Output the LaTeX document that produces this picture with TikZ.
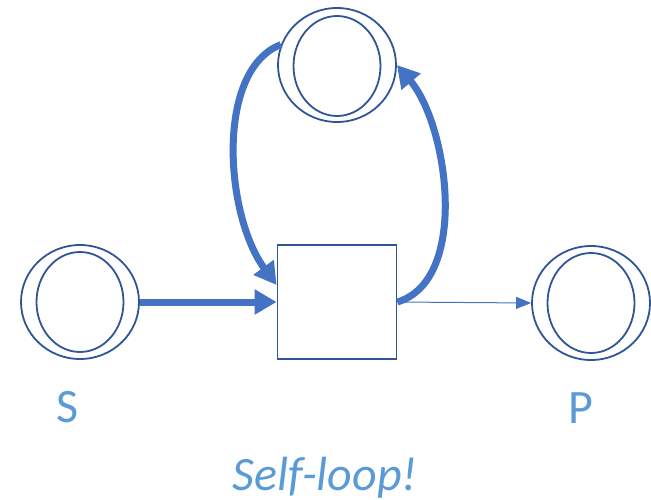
\documentclass[tikz,border=0pt]{standalone}
\usepackage{fontspec}
\setmainfont{Carlito}
\usetikzlibrary{shapes.geometric,arrows.meta}
\definecolor{ringblue}{HTML}{2F5597}
\definecolor{flowblue}{HTML}{4472C4}
\definecolor{labelblue}{HTML}{5B9BD5}
\begin{document}
\begin{tikzpicture}[x=1pt,y=-1pt,
  place/.style={ellipse,draw=ringblue,line width=1.8pt,minimum width=118pt,minimum height=114pt,inner sep=0pt},
  innerring/.style={ellipse,draw=ringblue,line width=1.8pt,minimum width=87pt,minimum height=100pt,inner sep=0pt},
  trans/.style={rectangle,draw=ringblue,line width=1.8pt,minimum width=119pt,minimum height=114pt,inner sep=0pt},
  heavy/.style={draw=flowblue,line width=7pt,-{Triangle[length=22pt,width=24pt]}},
  light/.style={draw=flowblue,line width=1pt,-{Triangle[length=15pt,width=12pt]}},
  lbl/.style={text=labelblue,font=\fontsize{48}{58}\selectfont,anchor=base,inner sep=0pt}]
\useasboundingbox (0,0) rectangle (651,499);

% places
\node[place] (s) at (80,302) {};
\node[innerring] (si) at (80,302) {};
\node[place] (top) at (337,65) {};
\node[innerring] (topi) at (337,66) {};
\node[place] (p) at (591,303) {};
\node[innerring] (pi) at (591,303) {};

% transition
\node[trans] (t) at (337,302) {};

% arcs
\draw[heavy] (s.east) -- (t.west);
\draw[heavy] (top.160) .. controls (215,70) and (225,215) .. ([yshift=17pt]t.west);
\draw[heavy] (t.east) .. controls (470,280) and (448,125) .. (top.east);
\draw[light] (t.east) -- (p.west);

% labels
\node[lbl] (slabel) at (68,422) {S};
\node[lbl] (plabel) at (581,423) {P};
\node[lbl,font=\fontsize{48}{58}\selectfont\itshape] (note) at (325,490) {Self-loop!};
\end{tikzpicture}
\end{document}
